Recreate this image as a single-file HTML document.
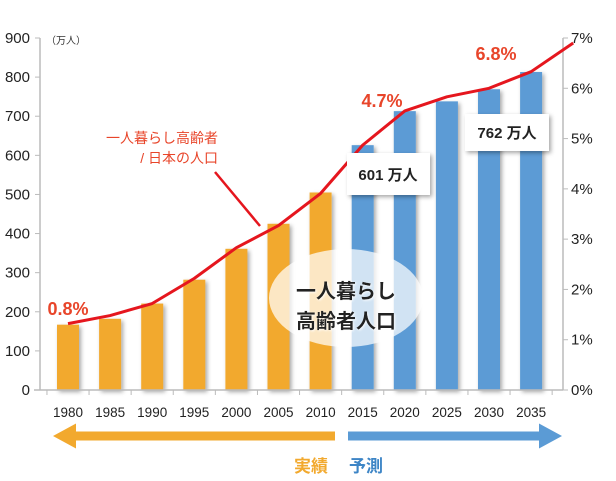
<!DOCTYPE html>
<html><head><meta charset="utf-8"><style>
body{margin:0;background:#fff;}
svg text{font-family:"Liberation Sans","Noto Sans CJK JP",sans-serif;}
</style></head><body>
<svg id="chart" width="616" height="476" viewBox="0 0 616 476" xmlns="http://www.w3.org/2000/svg">
<defs>
<filter id="sh" x="-20%" y="-20%" width="150%" height="160%"><feDropShadow dx="2" dy="2" stdDeviation="2" flood-opacity="0.35"/></filter>
<filter id="tsh"><feDropShadow dx="1" dy="1" stdDeviation="1" flood-color="#fff" flood-opacity="0.9"/></filter>
</defs>
<g id="grid"></g>
<g id="bars"></g>
<g id="axes"></g>
<g id="line"></g>
<g id="over"></g>
</svg>
<script>
const years=["1980","1985","1990","1995","2000","2005","2010","2015","2020","2025","2030","2035"];
const population=[167,182,221,282,361,425,505,626,713,738,769,813];
const ratio=[1.32,1.48,1.72,2.22,2.83,3.27,3.91,4.87,5.55,5.83,6.0,6.33,6.9];
const leftTicks=[0,100,200,300,400,500,600,700,800,900];
const rightTicks=["0%","1%","2%","3%","4%","5%","6%","7%"];
const actualCount=7;

const NS="http://www.w3.org/2000/svg";
const X0=40,X1=563,Y0=390,YT=38;
const step=42.1, firstX=68;
const xPos=i=>firstX+i*step;
const yL=v=>Y0-(v/900)*(Y0-YT);
const yR=v=>Y0-(v/7)*(Y0-YT);
function mk(tag,attrs,parent,txt){const e=document.createElementNS(NS,tag);for(const k in attrs)e.setAttribute(k,attrs[k]);if(txt!==undefined)e.textContent=txt;parent.appendChild(e);return e;}
const gBars=document.getElementById('bars'),gAx=document.getElementById('axes'),gLine=document.getElementById('line'),gOver=document.getElementById('over');

let a=mk('line',{x1:X0,y1:YT,x2:X0,y2:Y0,stroke:'#bbb','stroke-width':1.5},gAx);

a=mk('line',{x1:X1,y1:YT,x2:X1,y2:Y0,stroke:'#bbb','stroke-width':1.5},gAx);

a=mk('line',{x1:X0-6,y1:Y0,x2:X1,y2:Y0,stroke:'#bbb','stroke-width':1.5},gAx);

leftTicks.forEach(v=>{
  mk('line',{x1:X0-5,y1:yL(v),x2:X0,y2:yL(v),stroke:'#bbb'},gAx);
  const t=mk('text',{x:30,y:yL(v)+5,'text-anchor':'end','font-size':15,fill:'#222'},gAx,String(v));
  
});
rightTicks.forEach((s,i)=>{
  mk('line',{x1:X1,y1:yR(i),x2:X1+5,y2:yR(i),stroke:'#bbb'},gAx);
  const t=mk('text',{x:571,y:yR(i)+5,'font-size':15,fill:'#222'},gAx,s);
  
});
for(let i=0;i<=years.length;i++){mk('line',{x1:xPos(i)-step/2,y1:Y0,x2:xPos(i)-step/2,y2:Y0+5,stroke:'#bbb'},gAx);}
years.forEach((y,i)=>{
  const t=mk('text',{x:xPos(i),y:417,'text-anchor':'middle','font-size':13.5,fill:'#222'},gAx,y);
  
});
let u=mk('text',{x:46,y:44,'font-size':10,fill:'#333'},gAx,'（万人）');


population.forEach((v,i)=>{
  const b=mk('rect',{x:xPos(i)-11,y:yL(v),width:22,height:Y0-yL(v),fill:i<actualCount?'#f2a92e':'#5b9bd5',filter:'url(#sh)'},gBars);
  
});

const pts=ratio.map((v,i)=>xPos(i)+','+yR(v)).join(' ');
const pl=mk('polyline',{points:pts,fill:'none',stroke:'#e5161e','stroke-width':3,'stroke-linejoin':'round'},gLine);


let el=mk('ellipse',{cx:346,cy:298,rx:77,ry:49,fill:'#fff','fill-opacity':0.72},gOver);

let t1=mk('text',{x:346,y:298,'text-anchor':'middle','font-size':20,'font-weight':'bold',fill:'#222',filter:'url(#tsh)'},gOver,'一人暮らし');

t1=mk('text',{x:346,y:328,'text-anchor':'middle','font-size':20,'font-weight':'bold',fill:'#222',filter:'url(#tsh)'},gOver,'高齢者人口');


let c=mk('rect',{x:347,y:153,width:83,height:42,fill:'#fff',filter:'url(#sh)'},gOver);

c=mk('text',{x:388,y:180,'text-anchor':'middle','font-size':15,'font-weight':'bold',fill:'#222'},gOver,'601 万人');

c=mk('rect',{x:465,y:114,width:84,height:37,fill:'#fff',filter:'url(#sh)'},gOver);

c=mk('text',{x:507,y:138,'text-anchor':'middle','font-size':15,'font-weight':'bold',fill:'#222'},gOver,'762 万人');


[[68,315,'0.8%','pct-1980'],[382,107,'4.7%','pct-2020'],[496,60,'6.8%','pct-2035']].forEach(d=>{
  const t=mk('text',{x:d[0],y:d[1],'text-anchor':'middle','font-size':18,'font-weight':'bold',fill:'#e8452a'},gOver,d[2]);
  
});
let an=mk('text',{x:218,y:143,'text-anchor':'end','font-size':14,fill:'#e8452a'},gOver,'一人暮らし高齢者');

an=mk('text',{x:218,y:163,'text-anchor':'end','font-size':14,fill:'#e8452a'},gOver,'/ 日本の人口');

an=mk('line',{x1:215,y1:172,x2:260,y2:226,stroke:'#e5161e','stroke-width':2.5},gOver);


let ar=mk('polygon',{points:'53,436 76,423.5 76,431.5 335,431.5 335,440.5 76,440.5 76,448.5',fill:'#f2a92e'},gOver);

ar=mk('polygon',{points:'348,431.5 539,431.5 539,423.5 562,436 539,448.5 539,440.5 348,440.5',fill:'#5b9bd5'},gOver);

let lb=mk('text',{x:328,y:472,'text-anchor':'end','font-size':17,'font-weight':'bold',fill:'#f2a92e'},gOver,'実績');

lb=mk('text',{x:349,y:472,'font-size':17,'font-weight':'bold',fill:'#3d85c6'},gOver,'予測');

</script>
</body></html>
